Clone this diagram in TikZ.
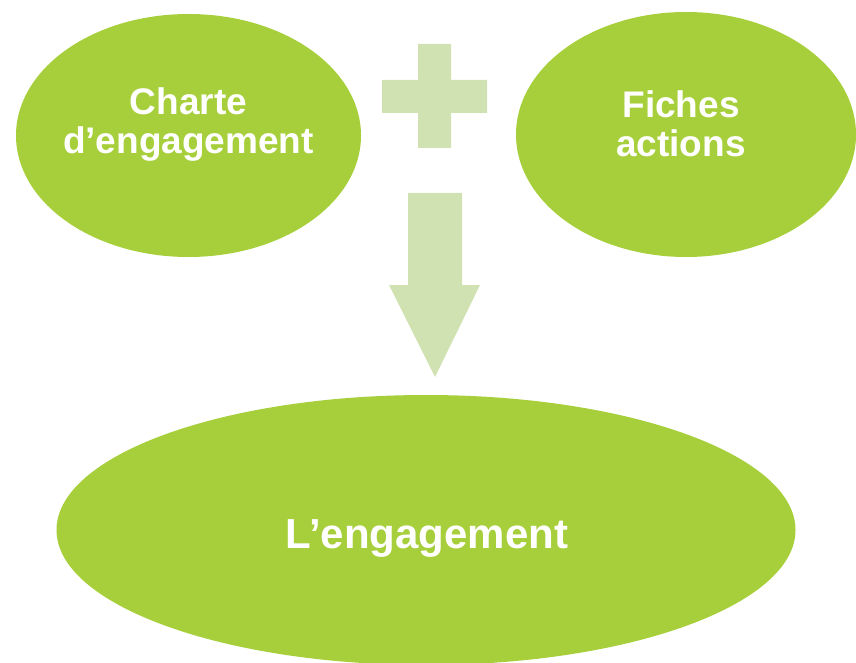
\documentclass[tikz,border=0pt]{standalone}
\usepackage{fontspec}
\setmainfont{Liberation Sans}
\usetikzlibrary{shapes.geometric}
\definecolor{leaf}{HTML}{A7CF3B}
\definecolor{pale}{HTML}{D1E2B2}
\tikzset{
  blob/.style={ellipse, fill=leaf, draw=none, inner sep=0pt},
  label37/.style={anchor=base, text=white, inner sep=0pt, font=\fontsize{37}{39}\selectfont\bfseries},
  label42/.style={anchor=base, text=white, inner sep=0pt, font=\fontsize{42}{44}\selectfont\bfseries},
  sign/.style={fill=pale, draw=none}
}
\begin{document}
\begin{tikzpicture}[x=1pt,y=1pt]
\useasboundingbox (0,0) rectangle (856,-663);
% ellipses
\node[blob, minimum width=345pt, minimum height=243pt] (charte) at (188.5,-135.5) {};
\node[blob, minimum width=340pt, minimum height=245pt] (fiches) at (686,-134.5) {};
\node[blob, minimum width=739pt, minimum height=270pt] (engag) at (426,-530) {};
% texts
\node[label37] (t1) at (188.5,-115) {Charte};
\node[label37] (t2) at (188.5,-154) {d’engagement};
\node[label37] (t3) at (681,-118) {Fiches};
\node[label37] (t4) at (681,-157) {actions};
\node[label42] (t5) at (427,-548) {L’engagement};
% plus sign
\fill[sign] (418,-44) -- (451,-44) -- (451,-80) -- (487,-80) -- (487,-113) -- (451,-113)
  -- (451,-148) -- (418,-148) -- (418,-113) -- (382,-113) -- (382,-80) -- (418,-80) -- cycle;
% down arrow
\fill[sign] (408,-193) -- (462,-193) -- (462,-285) -- (480,-285) -- (435,-377)
  -- (389,-285) -- (408,-285) -- cycle;
\end{tikzpicture}
\end{document}
